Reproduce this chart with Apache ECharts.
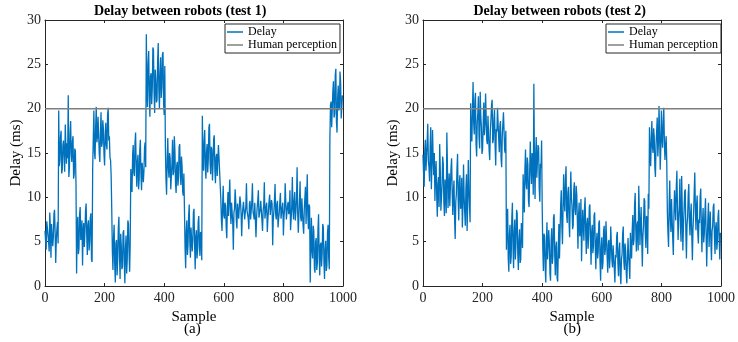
<!DOCTYPE html>
<html>
<head>
<meta charset="utf-8">
<script src="https://cdn.jsdelivr.net/npm/echarts@6/dist/echarts.min.js"></script>
<style>
  html, body { margin: 0; padding: 0; background: #fff; }
  #chart { width: 738px; height: 342px; }
</style>
</head>
<body>
<div id="chart"></div>
<script>
// sample spacing of the points
var SAMPLE_STEP = 2
var xTicks = [0, 200, 400, 600, 800, 1000]
var yTicks = [0, 5, 10, 15, 20, 25, 30]
var titles = ['Delay between robots (test 1)', 'Delay between robots (test 2)']
var captions = ['(a)', '(b)']
var humanLimit = [20, 20]
var limitSamples = [0, 1000]

// test 1 delay (ms)
var delay1 = [
  6.2, 5.1, 4.1, 7.3, 7.5, 5.8, 5.0, 3.9, 8.3, 6.6, 3.2, 7.0, 6.8, 4.5, 5.5, 8.1, 8.6, 6.0, 2.6, 5.3, 6.4, 7.2, 4.8,
  19.8, 13.5, 14.2, 16.8, 17.5, 12.7, 13.1, 15.9, 16.4, 14.6, 12.9, 18.2, 15.8, 13.8, 16.1,
  14.4, 21.5, 12.3, 13.4, 17.1, 18.6, 14.9, 14.0, 16.3, 16.9, 12.1, 12.6, 15.5, 15.2, 11.6,
  1.4, 6.5, 7.8, 3.6, 4.2, 8.0, 8.9, 5.2, 5.6, 7.4, 2.3, 6.1, 7.1, 4.4, 6.0, 8.5, 9.3, 5.8, 3.5, 6.9, 7.4, 4.0, 5.1, 7.7, 8.2, 3.0, 2.7,
  13.2, 16.6, 19.8, 15.1, 14.3, 18.0, 20.2, 16.2, 16.8, 19.1, 18.9, 15.0, 14.0, 17.3, 19.6, 15.7,
  16.1, 18.7, 17.7, 14.8, 13.6, 17.0, 18.4, 15.9, 15.4, 19.3, 20.1, 16.4, 16.9, 14.5, 14.2, 12.4,
  8.6, 4.0, 1.8, 5.5, 6.9, 2.4, 0.4, 4.8, 5.2, 1.2, 3.1, 6.5, 7.8, 3.3, 0.8, 5.9,
  4.5, 1.9, 2.2, 6.0, 6.3, 2.8, 0.3, 4.2, 5.7, 1.4, 2.9, 7.4, 7.0, 3.8, 1.6, 5.0,
  13.2, 11.9, 10.6, 14.7, 15.9, 12.8, 12.4, 16.1, 17.3, 13.5, 11.2, 14.0, 14.8,
  10.9, 12.0, 15.3, 16.5, 12.6, 10.8, 13.9, 14.1, 11.7, 13.0, 15.6, 16.2, 13.4,
  28.4, 22.6, 20.2, 25.1, 26.5, 21.4, 19.1, 23.6, 24.0, 20.5, 22.3, 26.9, 26.6, 21.8, 19.5, 24.4,
  23.1, 20.7, 21.0, 25.5, 27.4, 22.1, 20.0, 23.9, 25.8, 21.2, 22.4, 26.1, 26.4, 20.6, 19.3, 24.8,
  15.6, 12.0, 10.3, 14.2, 16.7, 13.3, 12.2, 15.0, 14.4, 10.9, 11.0, 13.8, 16.5, 12.5, 12.9, 16.9,
  15.2, 11.6, 10.5, 13.6, 14.0, 11.3, 12.1, 15.7, 16.0, 12.8, 11.4, 14.6, 13.5, 10.6, 10.2, 12.7,
  8.6, 4.3, 2.0, 6.2, 7.4, 3.5, 4.6, 7.9, 9.2, 5.0, 3.2, 6.6, 6.8, 3.9, 5.2,
  8.3, 8.7, 4.7, 1.9, 5.6, 6.3, 3.1, 4.0, 7.2, 7.9, 4.5, 3.4, 6.1, 5.8, 2.9,
  19.2, 14.8, 13.0, 16.3, 17.6, 13.4, 12.1, 15.1, 16.0, 12.8, 14.3, 17.9, 18.3, 13.9, 12.6, 15.7,
  15.4, 11.9, 13.8, 16.6, 17.0, 13.1, 11.6, 14.5, 14.9, 12.4, 12.2, 15.9, 15.8, 12.9, 11.3,
  9.8, 7.4, 6.2, 9.1, 11.3, 8.0, 7.6, 9.4, 9.0, 6.6, 5.4, 8.7, 10.6, 7.9, 8.1,
  12.0, 8.8, 7.0, 9.4, 9.5, 7.2, 4.1, 8.3, 8.7, 10.9, 9.6, 7.4, 6.5, 9.3, 9.2,
  7.6, 7.8, 10.1, 9.5, 8.2, 5.6, 7.9, 8.8, 9.5, 9.7, 7.5, 7.6, 9.0, 11.6, 8.5,
  8.3, 7.6, 6.4, 9.3, 9.6, 7.5, 7.6, 9.5, 11.6, 8.4, 8.0, 7.5, 9.4, 9.3, 5.5,
  7.7, 8.9, 9.6, 10.8, 7.7, 7.5, 8.6, 9.6, 9.5, 7.4, 6.2, 8.5, 9.1, 11.7, 7.6,
  7.7, 9.0, 9.4, 6.1, 7.6, 8.6, 9.6, 10.3, 8.0, 7.9, 9.7, 9.3, 4.6, 7.5, 8.4,
  9.6, 11.5, 8.1, 7.5, 9.2, 9.6, 6.6, 7.6, 8.2, 9.5, 10.5, 7.6, 7.4, 8.9, 9.4,
  5.7, 7.8, 8.8, 11.6, 9.5, 7.5, 7.4, 9.1, 9.5, 8.1, 8.4, 10.8, 6.3, 7.6, 9.0,
  12.3, 8.7, 7.5, 9.6, 10.6, 7.4, 8.4, 9.8, 13.4, 8.3, 6.0, 8.0, 9.7, 11.8, 7.7,
  7.3, 9.9, 10.1, 6.8, 5.9, 8.6, 8.5, 11.2, 7.0, 9.3, 12.6, 8.1, 6.4, 9.2, 8.9,
  0.4, 4.5, 7.7, 3.9, 3.1, 6.8, 6.2, 2.0, 1.5, 5.0, 5.4, 1.8, 2.6, 6.3, 8.1, 3.4,
  1.2, 4.6, 4.9, 2.2, 3.6, 7.0, 6.6, 2.8, 0.8, 4.1, 5.1, 1.7, 2.3, 6.0, 6.9, 3.2, 1.9,
  16.6, 20.4, 20.8, 17.9, 18.0, 22.0, 23.1, 19.0, 19.4, 23.7, 24.5, 18.5, 17.3, 21.2, 22.6, 19.8,
  20.1, 24.2, 23.0, 18.9, 18.7, 21.5
]

// test 2 delay (ms)
var delay2 = [
  14.8, 12.6, 11.2, 15.3, 16.5, 13.0, 12.9, 16.2, 18.3, 14.1, 13.4, 11.8, 15.7, 17.9, 10.9, 13.6, 17.6, 14.5, 12.5, 15.0,
  9.6, 12.8, 14.1, 10.2, 7.8, 11.5, 12.3, 8.9, 16.0, 13.2, 8.5, 10.0, 11.4, 14.6, 13.8,
  9.4, 7.9, 12.0, 10.6, 8.2, 17.3, 13.5, 8.8, 11.1, 12.7, 9.0, 9.2, 13.3, 14.4, 10.5,
  8.0, 10.7, 11.9, 7.6, 5.3, 9.5, 10.4, 13.2, 14.9, 9.8, 7.4, 11.6, 12.5, 8.7, 9.1,
  12.2, 6.6, 8.9, 13.7, 10.1, 8.3, 6.8, 11.0, 12.6, 6.2, 9.3, 14.2, 10.8, 9.0, 7.2,
  20.6, 17.2, 16.3, 19.8, 23.0, 18.5, 17.1, 20.9, 21.8, 16.0, 14.6, 18.4, 19.5, 21.4, 16.8, 15.5, 21.9, 19.1, 17.9, 14.9,
  15.4, 18.3, 20.7, 17.0, 18.2, 21.7, 21.6, 16.4, 16.0, 19.2, 19.3, 15.2, 14.2, 17.6, 18.8, 20.4, 21.0, 16.1, 16.5, 18.9,
  19.9, 15.8, 13.6, 17.7, 17.4, 20.1, 20.3, 16.6, 15.1, 18.0, 18.6, 14.4, 13.4, 16.9, 17.0, 19.6, 19.4, 15.3, 15.0, 17.5,
  4.1, 7.0, 8.7, 3.2, 1.6, 5.8, 6.9, 2.5, 3.3, 7.6, 9.4, 4.4, 2.0, 6.1,
  7.5, 3.0, 4.8, 8.6, 8.2, 3.7, 1.8, 5.2, 6.4, 2.6, 3.0, 7.1, 5.9, 4.3,
  12.6, 10.4, 8.3, 13.1, 15.4, 11.6, 10.9, 14.5, 13.7, 9.6, 8.9, 12.8, 16.3, 13.4, 11.5, 15.0,
  14.2, 10.3, 22.8, 13.9, 9.8, 14.7, 16.8, 12.2, 12.0, 15.9, 15.6, 11.0, 9.5, 13.8, 13.3, 16.4,
  8.9, 4.2, 1.7, 5.9, 5.6, 2.1, 0.4, 4.7, 7.2, 3.0, 2.9, 6.3, 4.8, 1.4, 0.6,
  5.2, 6.5, 2.5, 3.4, 7.7, 8.1, 3.6, 1.2, 4.4, 5.0, 0.9, 0.5, 4.0, 7.0, 3.1,
  6.2, 9.1, 10.8, 6.7, 4.7, 8.8, 12.6, 9.4, 8.4, 12.1, 13.5, 8.0, 7.1, 10.5, 11.2,
  7.3, 5.5, 9.6, 12.9, 10.0, 9.0, 6.4, 6.8, 10.9, 11.7, 8.5, 8.0, 11.3, 10.3, 7.4,
  4.2, 7.9, 9.4, 5.6, 6.3, 9.8, 2.8, 5.9, 8.6, 6.8, 5.1, 8.8, 10.0, 6.0, 3.6, 7.0, 7.7, 4.2, 5.8, 8.9,
  9.2, 5.3, 2.4, 6.1, 6.9, 3.7, 4.5, 7.9, 8.3, 4.6, 1.9, 5.0, 6.0, 3.1, 3.9, 7.1, 7.4, 2.8, 0.6, 4.4,
  5.5, 1.9, 2.7, 6.2, 6.8, 3.5, 4.1, 7.3, 7.3, 3.2, 1.5, 4.8, 5.2, 2.0, 3.3, 6.7, 6.5, 2.9, 2.1, 4.6,
  4.6, 1.9, 0.4, 3.5, 3.2, 5.6, 6.1, 2.6, 1.1, 4.0, 4.9, 1.3, 0.2, 3.0, 3.6,
  5.9, 6.7, 2.7, 1.8, 4.8, 4.0, 1.5, 0.3, 2.9, 5.4, 3.4, 2.3, 0.8, 6.0, 3.9,
  3.1, 6.2, 8.0, 4.6, 5.2, 9.1, 10.5, 6.5, 3.9, 6.8, 7.3, 4.0, 11.3, 8.2, 4.6,
  7.0, 8.9, 5.4, 2.2, 5.7, 6.8, 9.9, 9.6, 5.8, 4.3, 7.9, 7.5, 3.6, 10.4, 8.7,
  17.9, 15.2, 13.5, 16.4, 18.6, 15.7, 15.0, 17.8, 16.8, 13.4, 12.3, 15.9, 17.4, 19.0, 14.6,
  16.1, 20.3, 17.2, 13.1, 15.5, 19.8, 16.7, 15.6, 18.5, 20.1, 16.3, 14.2, 15.8, 16.9, 13.9,
  8.3, 6.0, 4.4, 9.2, 11.9, 7.7, 6.1, 9.8, 9.7, 5.4, 3.5, 7.9, 10.8, 8.9, 7.4, 11.2, 13.0, 8.4, 5.2, 7.6,
  9.0, 12.1, 6.6, 5.0, 12.4, 8.7, 4.0, 6.8, 8.5, 10.6, 10.9, 6.2, 3.1, 6.9, 7.8, 10.3, 11.5, 7.2, 5.7, 8.0,
  9.3, 5.6, 2.9, 6.4, 8.1, 10.5, 12.8, 8.8, 6.3, 9.1, 10.2, 6.1, 4.8, 7.5, 7.1, 10.0, 11.0, 6.7, 3.8, 7.2,
  8.8, 4.9, 5.9, 8.3, 9.9, 6.0, 2.2, 5.3, 7.6, 9.4, 4.4, 6.5, 8.4, 5.1, 2.9, 6.2, 6.7, 8.9, 9.3, 5.5,
  3.6, 6.6, 7.2, 4.1, 5.0, 7.8, 8.6, 5.2, 3.0, 6.0
]

var FONT = '"Liberation Serif", "Times New Roman", serif'
var INK = '#262626'
var grids = [
  { left: 45, top: 20, width: 298, height: 266 },
  { left: 423, top: 20, width: 301, height: 266 }
]

function toPoints(arr) {
  return arr.map(function (v, i) { return [i * SAMPLE_STEP, v] })
}

function boxAxisLine() {
  return { onZero: false, lineStyle: { color: INK, width: 1 } }
}

var xAxes = [], yAxes = [], series = [], legends = [], graphics = []
grids.forEach(function (g, k) {
  // bottom axis with labels, top axis only for the box
  xAxes.push({
    gridIndex: k, type: 'value', min: xTicks[0], max: xTicks[xTicks.length - 1], interval: 200,
    name: 'Sample', nameLocation: 'middle', nameGap: 23,
    nameTextStyle: { fontFamily: FONT, fontSize: 15, color: '#000' },
    axisLine: boxAxisLine(),
    axisTick: { inside: true, length: 3, lineStyle: { color: INK } },
    axisLabel: { fontFamily: FONT, fontSize: 14, color: INK, margin: 5, formatter: function (v) { return String(v) } },
    splitLine: { show: false }
  })
  xAxes.push({
    gridIndex: k, type: 'value', position: 'top', min: 0, max: 1000, interval: 200,
    axisLine: boxAxisLine(),
    axisTick: { inside: true, length: 3, lineStyle: { color: INK } },
    axisLabel: { show: false }, splitLine: { show: false }
  })
  yAxes.push({
    gridIndex: k, type: 'value', min: yTicks[0], max: yTicks[yTicks.length - 1], interval: 5,
    name: 'Delay (ms)', nameLocation: 'middle', nameGap: k === 0 ? 21 : 22, nameRotate: 90,
    nameTextStyle: { fontFamily: FONT, fontSize: 15, color: '#000' },
    axisLine: Object.assign({ show: true }, boxAxisLine()),
    axisTick: { show: true, inside: true, length: 3, lineStyle: { color: INK } },
    axisLabel: { fontFamily: FONT, fontSize: 14, color: INK, margin: 4 },
    splitLine: { show: false }
  })
  yAxes.push({
    gridIndex: k, type: 'value', position: 'right', min: 0, max: 30, interval: 5,
    axisLine: Object.assign({ show: true }, boxAxisLine()),
    axisTick: { show: true, inside: true, length: 3, lineStyle: { color: INK } },
    axisLabel: { show: false }, splitLine: { show: false }
  })

  series.push({
    name: 'Delay', type: 'line', xAxisIndex: 2 * k, yAxisIndex: 2 * k,
    data: toPoints(k === 0 ? delay1 : delay2),
    symbol: 'none', lineStyle: { color: '#0072BD', width: 1.3 }, itemStyle: { color: '#0072BD' },
    z: 2
  })
  series.push({
    name: 'Human perception', type: 'line', xAxisIndex: 2 * k, yAxisIndex: 2 * k,
    data: limitSamples.map(function (s, i) { return [s, humanLimit[i]] }),
    symbol: 'none', lineStyle: { color: '#7f7f7f', width: 1.5 }, itemStyle: { color: '#7f7f7f' },
    z: 3
  })

  legends.push({
    data: ['Delay', 'Human perception'],
    orient: 'vertical',
    left: g.left + g.width - 118, top: 24,
    padding: [2, 3, 2, 2], itemGap: 1,
    icon: 'rect', itemWidth: 16, itemHeight: 1.5,
    borderColor: INK, borderWidth: 1, backgroundColor: '#fff',
    textStyle: { fontFamily: FONT, fontSize: 12, color: '#000', lineHeight: 12 },
    selectedMode: false
  })

  graphics.push({
    type: 'text', left: g.left + g.width / 2 - 100, top: 4,
    style: { text: titles[k], font: 'bold 14px ' + FONT, fill: '#000', width: 200, align: 'center' }
  })
  graphics.push({
    type: 'text', left: g.left + g.width / 2 - 10, top: 322,
    style: { text: captions[k], font: '15px ' + FONT, fill: '#000' }
  })
})

var chart = echarts.init(document.getElementById('chart'), null, { renderer: 'canvas' })
chart.setOption({
  animation: false,
  backgroundColor: '#fff',
  grid: grids,
  xAxis: xAxes,
  yAxis: yAxes,
  legend: legends,
  series: series,
  graphic: graphics
})
</script>
</body>
</html>
